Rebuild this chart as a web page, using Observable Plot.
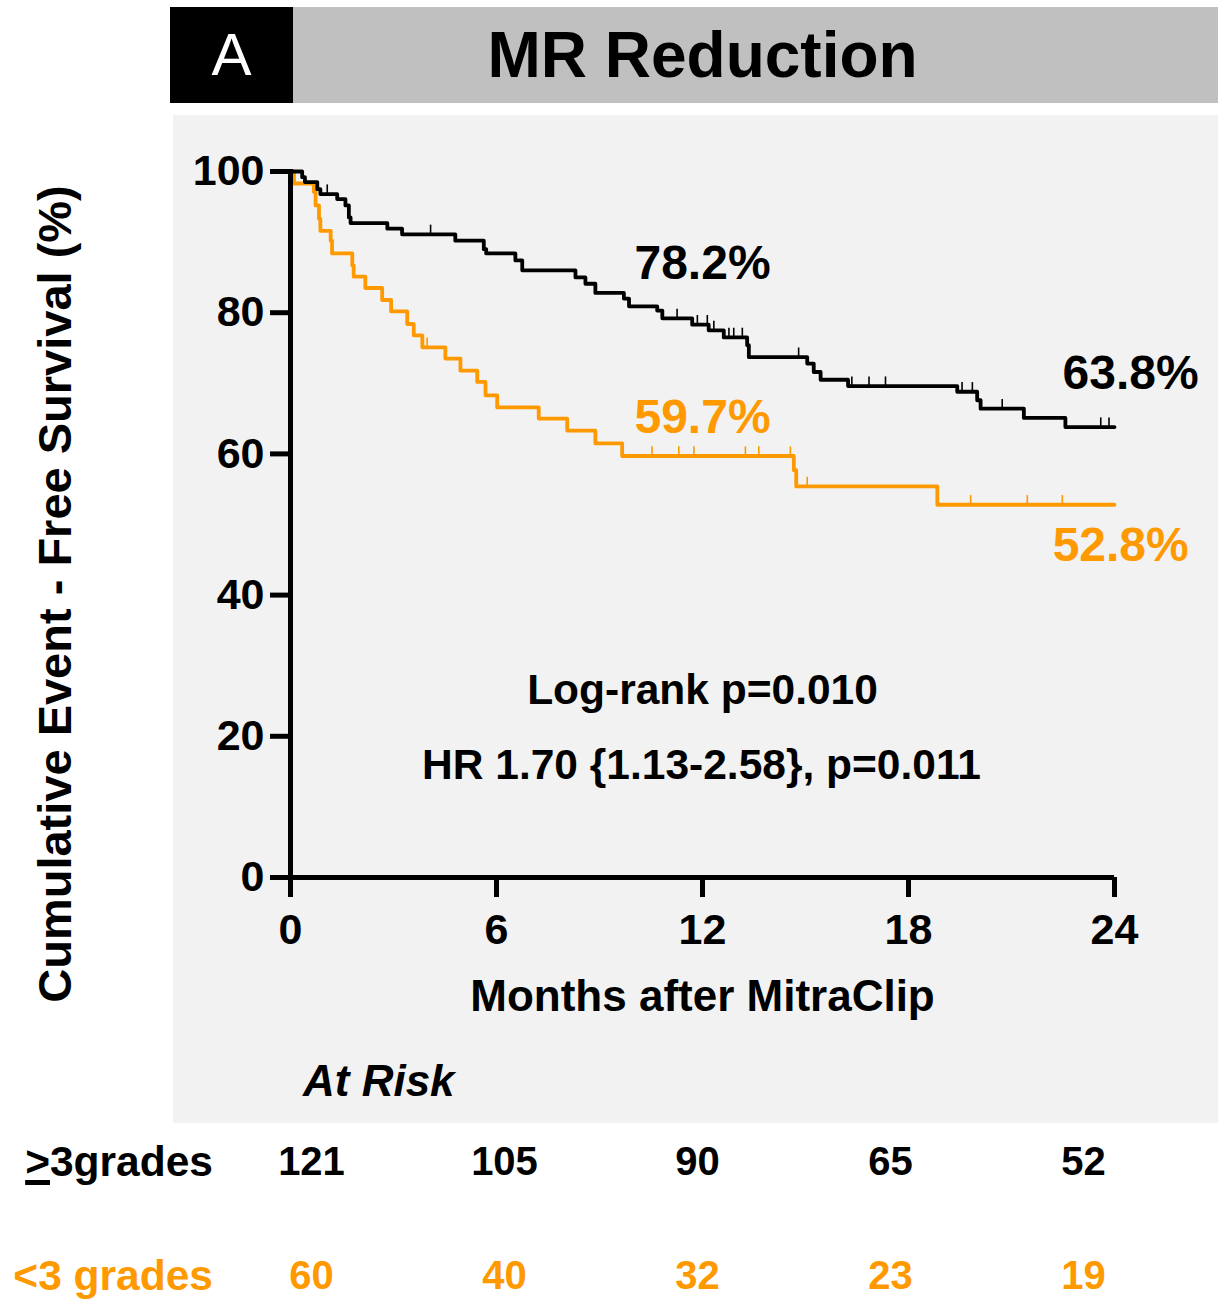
<!DOCTYPE html>
<html>
<head>
<meta charset="utf-8">
<script src="https://cdn.jsdelivr.net/npm/d3@7"></script>
<script src="https://cdn.jsdelivr.net/npm/@observablehq/plot@0.6"></script>
<style>
  html, body { margin: 0; padding: 0; background: #fff; }
  body { width: 1218px; height: 1308px; position: relative; overflow: hidden;
         font-family: "Liberation Sans", Arial, sans-serif; }
  .abs { position: absolute; }
  #hdrA { left: 170px; top: 7px; width: 123px; height: 96px; background: #000; color: #fff;
          font-size: 60px; line-height: 96px; text-align: center; }
  #hdrT { left: 293px; top: 7px; width: 925px; height: 96px; background: #c0c0c0; color: #000;
          font-size: 64px; font-weight: bold; line-height: 96px; text-align: center; text-indent: -106px; }
  #panel { left: 173px; top: 115px; width: 1045px; height: 1008px; background: #f2f2f2; }
  #main { left: 0; top: 115px; }
  #risk { left: 0; top: 1123px; }
  #atrisk { left: 303px; top: 1056px; font-size: 44px; font-weight: bold; font-style: italic; line-height: 50px; }
  #ylab { left: 55px; top: 594px; width: 900px; margin-left: -450px; margin-top: -27px; height: 54px;
          line-height: 54px; text-align: center; transform: rotate(-90deg); font-size: 47px; font-weight: bold; white-space: nowrap; }
  .rowlab { right: 1005px; font-size: 42.5px; font-weight: bold; line-height: 50px; white-space: nowrap; }
  svg { overflow: visible; }
</style>
</head>
<body>
<div id="hdrA" class="abs">A</div>
<div id="hdrT" class="abs">MR Reduction</div>
<div id="panel" class="abs"></div>
<div id="main" class="abs"></div>
<div id="ylab" class="abs">Cumulative Event - Free Survival (%)</div>
<div id="atrisk" class="abs">At Risk</div>
<div id="risk" class="abs"></div>
<div class="abs rowlab" style="top:1137px;color:#000"><span style="text-decoration:underline;text-decoration-thickness:5px;text-underline-offset:4px">&gt;</span>3grades</div>
<div class="abs rowlab" style="top:1251px;color:#ff9900">&lt;3 grades</div>
<script>
// ---- Data ----
const groups = [">3grades", "<3 grades"];
const colors = ["#000000", "#ff9900"];

// Kaplan-Meier step curves: time (months) and survival (%) after each step
const hiTimes = [0, 0.34, 0.42, 0.78, 0.87, 1.36, 1.6, 1.7, 1.75, 2.82, 3.25, 4.8, 5.63, 5.7, 6.55, 6.75,
                 8.3, 8.59, 8.88, 9.71, 9.86, 10.68, 10.83, 11.7, 12.18, 12.62, 13.3, 13.35, 15.05, 15.24,
                 15.44, 16.24, 19.42, 20.0, 20.1, 21.36, 22.57, 24];
const hiSurv  = [100, 99.2, 98.5, 97.5, 96.8, 96.1, 95.2, 93.5, 92.7, 91.9, 91.1, 90.2, 89.0, 88.4, 87.4, 86.0,
                 85.0, 84.1, 82.8, 82.0, 80.9, 80.3, 79.2, 78.3, 77.5, 76.5, 75.4, 73.7, 72.8, 71.6,
                 70.5, 69.6, 68.8, 67.6, 66.4, 65.1, 63.8, 63.8];
const loTimes = [0, 0.1, 0.68, 0.73, 0.83, 0.87, 1.17, 1.21, 1.8, 1.84, 2.18, 2.67, 2.93, 3.4, 3.59, 3.84,
                 4.51, 4.95, 5.44, 5.68, 6.02, 7.23, 8.06, 8.88, 9.66, 14.66, 14.73, 18.84, 24];
const loSurv  = [100, 98.3, 97.1, 95.2, 93.3, 91.6, 90.2, 88.4, 86.7, 85.1, 83.5, 81.8, 80.2, 78.4, 76.8, 75.1,
                 73.5, 71.8, 70.2, 68.3, 66.6, 65.0, 63.3, 61.5, 59.7, 57.7, 55.4, 52.8, 52.8];

// Censoring times (months)
const hiCensor = [1.07, 4.08, 11.26, 11.85, 12.14, 12.33, 12.77, 12.91, 13.16, 14.8, 16.35, 16.85, 17.33,
                  19.56, 19.86, 20.73, 23.6, 23.84];
const loCensor = [3.98, 10.53, 11.31, 11.75, 13.25, 13.64, 14.56, 15.05, 19.81, 21.46, 22.48];

// Axis ticks
const xTicks = [0, 6, 12, 18, 24];
const yTicks = [0, 20, 40, 60, 80, 100];

// Numbers at risk
const riskTimes = [0, 6, 12, 18, 24];
const hiRisk = [121, 105, 90, 65, 52];
const loRisk = [60, 40, 32, 23, 19];

// Annotations
const pctLabels = ["78.2%", "59.7%", "63.8%", "52.8%"];
const pctX = [12, 12, 24.47, 24.18];
const pctY = [87, 65.2, 71.4, 47.0];
const pctGroup = [0, 1, 0, 1];
const statLabels = ["Log-rank p=0.010", "HR 1.70 {1.13-2.58}, p=0.011"];
const statX = [12, 11.97];
const statY = [26.5, 15.9];

// ---- Build tables ----
const curve = (times, surv, g) => times.map((t, i) => ({t, s: surv[i], g}));
const hiCurve = curve(hiTimes, hiSurv, 0);
const loCurve = curve(loTimes, loSurv, 1);
const survAt = (times, surv, t) => { let v = surv[0]; for (let i = 0; i < times.length; i++) if (times[i] <= t) v = surv[i]; return v; };
const censors = [
  ...hiCensor.map(t => ({t, s: survAt(hiTimes, hiSurv, t), g: 0})),
  ...loCensor.map(t => ({t, s: survAt(loTimes, loSurv, t), g: 1}))
];
const pcts = pctLabels.map((l, i) => ({l, x: pctX[i], y: pctY[i], g: pctGroup[i]}));
const stats = statLabels.map((l, i) => ({l, x: statX[i], y: statY[i]}));

const main = Plot.plot({
  width: 1218, height: 1008,
  marginLeft: 290, marginRight: 104, marginTop: 56, marginBottom: 246,
  style: {fontFamily: "'Liberation Sans', Arial, sans-serif", fontWeight: "bold", background: "transparent", overflow: "visible"},
  x: {domain: [0, 24], label: null},
  y: {domain: [0, 100], label: null},
  marks: [
    Plot.axisX({ticks: xTicks, tickSize: 20, tickPadding: 16, strokeWidth: 5, fontSize: 43, fontWeight: "bold", label: null}),
    Plot.axisY({ticks: yTicks, tickSize: 20, tickPadding: 6, strokeWidth: 5, fontSize: 43, fontWeight: "bold", label: null}),
    Plot.line(loCurve, {x: "t", y: "s", curve: "step-after", stroke: colors[1], strokeWidth: 3.8}),
    Plot.ruleX(censors.filter(d => d.g === 1), {x: "t", y1: "s", y2: d => d.s + 1.3, stroke: colors[1], strokeWidth: 1.6}),
    Plot.line(hiCurve, {x: "t", y: "s", curve: "step-after", stroke: colors[0], strokeWidth: 3.8}),
    Plot.ruleX(censors.filter(d => d.g === 0), {x: "t", y1: "s", y2: d => d.s + 1.3, stroke: colors[0], strokeWidth: 1.6}),
    Plot.ruleY([0], {stroke: "#000", strokeWidth: 5, insetLeft: -2.5}),
    Plot.ruleX([0], {stroke: "#000", strokeWidth: 5, insetTop: -2, insetBottom: -2}),
    Plot.text(pcts, {x: "x", y: "y", text: "l", fill: d => colors[d.g], fontSize: 48, fontWeight: "bold"}),
    Plot.text(stats, {x: "x", y: "y", text: "l", fill: "#000", fontSize: 42.5, fontWeight: "bold"}),
    Plot.text(["Months after MitraClip"], {frameAnchor: "bottom", dy: 133, fontSize: 44, fontWeight: "bold", fill: "#000"})
  ]
});
document.getElementById("main").appendChild(main);

const riskRows = [
  ...riskTimes.map((t, i) => ({t, n: hiRisk[i], g: groups[0], c: 0})),
  ...riskTimes.map((t, i) => ({t, n: loRisk[i], g: groups[1], c: 1}))
];
const risk = Plot.plot({
  width: 1218, height: 185,
  style: {fontFamily: "'Liberation Sans', Arial, sans-serif", fontWeight: "bold", background: "transparent", overflow: "visible"},
  x: {type: "point", domain: riskTimes, range: [310, 1083], padding: 0, axis: null},
  y: {type: "point", domain: groups, range: [39, 153], padding: 0, axis: null},
  marks: [
    Plot.text(riskRows, {x: "t", y: "g", text: "n", fill: d => colors[d.c], fontSize: 40, fontWeight: "bold"})
  ]
});
document.getElementById("risk").appendChild(risk);
</script>
</body>
</html>
